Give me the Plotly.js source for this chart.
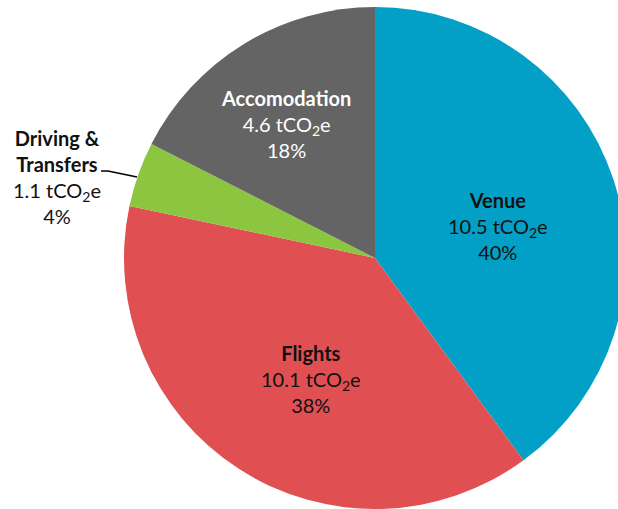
<!DOCTYPE html>
<html>
<head>
<meta charset="utf-8">
<script src="https://cdn.plot.ly/plotly-3.0.1.min.js"></script>
<style>
html, body { margin: 0; padding: 0; overflow: hidden; background: #fff; }
#chart { width: 640px; height: 509px; }
</style>
</head>
<body>
<div id="chart"></div>
<script>
// Data
const categories = ['Venue', 'Flights', 'Driving &<br>Transfers', 'Accomodation'];
const emissions = [10.5, 10.1, 1.1, 4.6];           // tCO2e
const percentLabels = ['40%', '38%', '4%', '18%'];
const sliceColors = ['#02A0C7', '#E05052', '#8CC540', '#646464'];
const labelColors = ['#111111', '#111111', '#111111', '#FFFFFF'];

const W = 640, H = 509;
// label anchor positions (pixels) for text
const labelPos = [[498, 226], [311, 379], [57, 177], [286, 124]];

const px = x => x / W;
const py = y => 1 - y / H;

const trace = {
  type: 'pie',
  labels: categories,
  values: emissions,
  sort: false,
  direction: 'clockwise',
  rotation: 0,
  marker: { colors: sliceColors, line: { width: 0 } },
  textinfo: 'none',
  hoverinfo: 'skip',
  showlegend: false,
  domain: { x: [123 / W, 627 / W], y: [0, 502 / H] }
};

const annotations = categories.map((c, i) => ({
  xref: 'paper', yref: 'paper',
  x: px(labelPos[i][0]), y: py(labelPos[i][1]),
  xanchor: 'center', yanchor: 'middle',
  showarrow: false,
  align: 'center',
  text: '<b>' + c + '</b><br>' + emissions[i].toFixed(1) + ' tCO<sub>2</sub>e<br>' + percentLabels[i],
  font: { family: 'Lato, "Open Sans", sans-serif', size: 20, color: labelColors[i] }
}));

const layout = {
  width: W, height: H,
  margin: { l: 0, r: 0, t: 0, b: 0 },
  paper_bgcolor: '#ffffff',
  annotations: annotations,
  shapes: [{
    type: 'path', xref: 'paper', yref: 'paper',
    path: 'M ' + px(101) + ',' + py(171) + ' L ' + px(108) + ',' + py(171) + ' L ' + px(137) + ',' + py(177),
    line: { color: '#000000', width: 1.5 }
  }]
};

Plotly.newPlot('chart', [trace], layout, { displayModeBar: false, staticPlot: true });
</script>
</body>
</html>
